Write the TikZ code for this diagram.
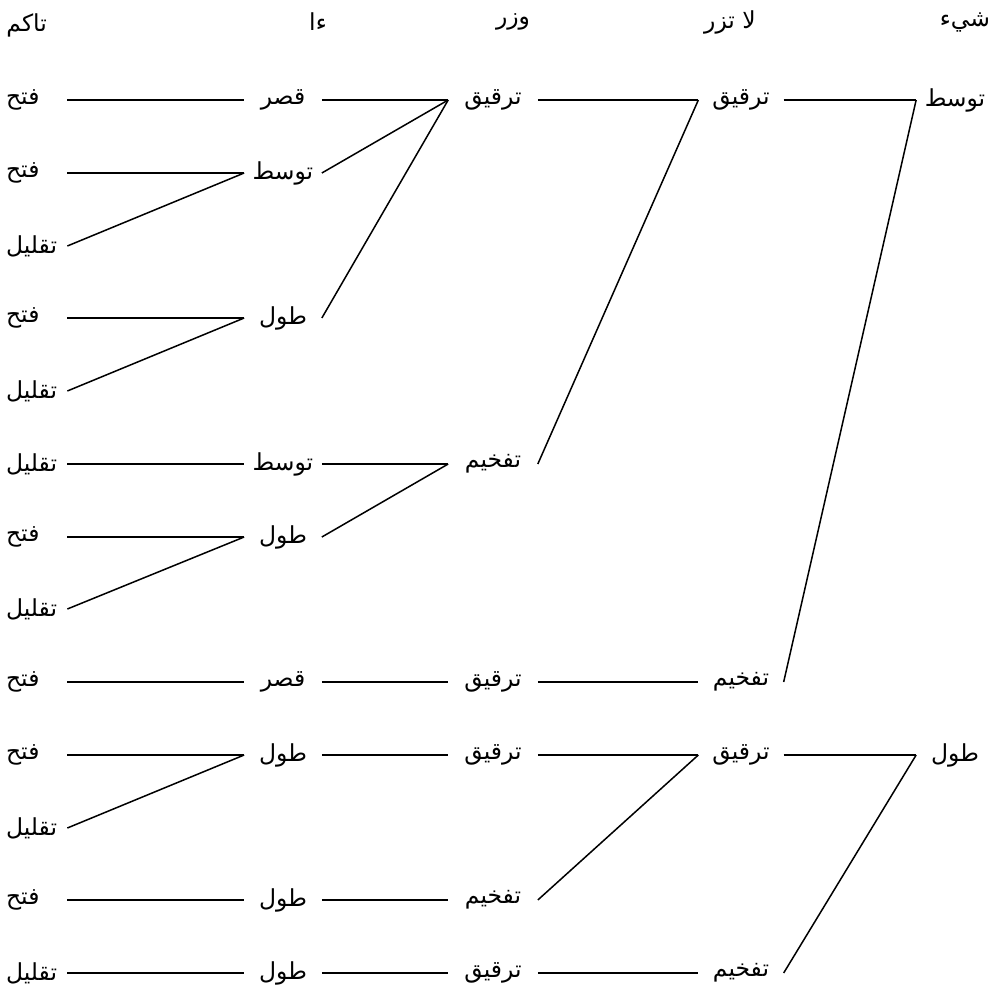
\documentclass[tikz,border=0pt]{standalone}
\usepackage{fontspec}
\newfontfamily\arabicfont[Script=Arabic]{DejaVu Sans}
\TeXXeTstate=1
\newcommand{\rtltext}[1]{\beginR#1\endR}
\begin{document}
\begin{tikzpicture}[x=0.021cm, y=-0.021cm, line width=0.9pt, font=\arabicfont\fontsize{14}{16}\selectfont,
  l/.style={anchor=west, text width=1.2cm, align=left, inner xsep=2pt, inner ysep=1pt},
  n/.style={minimum width=#1, inner xsep=0pt, inner ysep=1pt},
  h/.style={inner sep=1pt}]
  \useasboundingbox (0,0) rectangle (994,990);
  \node[h, anchor=west] (h1) at (4,25) {\rtltext{تاكم}};
  \node[h] (h2) at (318,22) {\rtltext{ءا}};
  \node[h] (h3) at (513,22) {\rtltext{وزر}};
  \node[h] (h4) at (730,22) {\rtltext{لا تزر}};
  \node[h] (h5) at (965,22) {\rtltext{شيء}};
  \node[l] (a1) at (2,100) {\rtltext{فتح}};
  \node[l] (a2) at (2,173) {\rtltext{فتح}};
  \node[l] (a3) at (2,246) {\rtltext{تقليل}};
  \node[l] (a4) at (2,318) {\rtltext{فتح}};
  \node[l] (a5) at (2,391) {\rtltext{تقليل}};
  \node[l] (a6) at (2,464) {\rtltext{تقليل}};
  \node[l] (a7) at (2,537) {\rtltext{فتح}};
  \node[l] (a8) at (2,609) {\rtltext{تقليل}};
  \node[l] (a9) at (2,682) {\rtltext{فتح}};
  \node[l] (a10) at (2,755) {\rtltext{فتح}};
  \node[l] (a11) at (2,828) {\rtltext{تقليل}};
  \node[l] (a12) at (2,900) {\rtltext{فتح}};
  \node[l] (a13) at (2,973) {\rtltext{تقليل}};
  \node[n=1.6cm] (b1) at (283,100) {\rtltext{قصر}};
  \node[n=1.6cm] (b2) at (283,173) {\rtltext{توسط}};
  \node[n=1.6cm] (b4) at (283,318) {\rtltext{طول}};
  \node[n=1.6cm] (b6) at (283,464) {\rtltext{توسط}};
  \node[n=1.6cm] (b7) at (283,537) {\rtltext{طول}};
  \node[n=1.6cm] (b9) at (283,682) {\rtltext{قصر}};
  \node[n=1.6cm] (b10) at (283,755) {\rtltext{طول}};
  \node[n=1.6cm] (b12) at (283,900) {\rtltext{طول}};
  \node[n=1.6cm] (b13) at (283,973) {\rtltext{طول}};
  \node[n=1.85cm] (c1) at (493,100) {\rtltext{ترقيق}};
  \node[n=1.85cm] (c6) at (493,464) {\rtltext{تفخيم}};
  \node[n=1.85cm] (c9) at (493,682) {\rtltext{ترقيق}};
  \node[n=1.85cm] (c10) at (493,755) {\rtltext{ترقيق}};
  \node[n=1.85cm] (c12) at (493,900) {\rtltext{تفخيم}};
  \node[n=1.85cm] (c13) at (493,973) {\rtltext{ترقيق}};
  \node[n=1.76cm] (d1) at (741,100) {\rtltext{ترقيق}};
  \node[n=1.76cm] (d9) at (741,682) {\rtltext{تفخيم}};
  \node[n=1.76cm] (d10) at (741,755) {\rtltext{ترقيق}};
  \node[n=1.76cm] (d13) at (741,973) {\rtltext{تفخيم}};
  \node[n=1.6cm] (e1) at (955,100) {\rtltext{توسط}};
  \node[n=1.6cm] (e10) at (955,755) {\rtltext{طول}};
  \draw (a1.east) -- (b1.west); \draw (a2.east) -- (b2.west); \draw (a3.east) -- (b2.west);
  \draw (a4.east) -- (b4.west); \draw (a5.east) -- (b4.west); \draw (a6.east) -- (b6.west);
  \draw (a7.east) -- (b7.west); \draw (a8.east) -- (b7.west); \draw (a9.east) -- (b9.west);
  \draw (a10.east) -- (b10.west); \draw (a11.east) -- (b10.west); \draw (a12.east) -- (b12.west);
  \draw (a13.east) -- (b13.west);
  \draw (b1.east) -- (c1.west); \draw (b2.east) -- (c1.west); \draw (b4.east) -- (c1.west);
  \draw (b6.east) -- (c6.west); \draw (b7.east) -- (c6.west); \draw (b9.east) -- (c9.west);
  \draw (b10.east) -- (c10.west); \draw (b12.east) -- (c12.west); \draw (b13.east) -- (c13.west);
  \draw (c1.east) -- (d1.west); \draw (c6.east) -- (d1.west); \draw (c9.east) -- (d9.west);
  \draw (c10.east) -- (d10.west); \draw (c12.east) -- (d10.west); \draw (c13.east) -- (d13.west);
  \draw (d1.east) -- (e1.west); \draw (d9.east) -- (e1.west);
  \draw (d10.east) -- (e10.west); \draw (d13.east) -- (e10.west);
\end{tikzpicture}
\end{document}
